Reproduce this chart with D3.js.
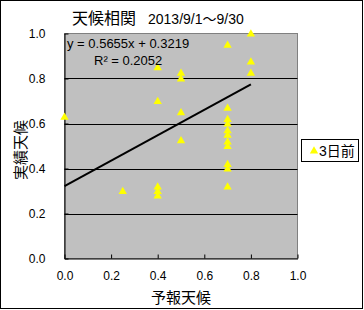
<!DOCTYPE html>
<html><head><meta charset="utf-8">
<script src="https://cdn.jsdelivr.net/npm/d3@7"></script>
<style>
body{margin:0;background:#fff;}
text{font-family:"Liberation Sans","Noto Sans CJK JP",sans-serif;}
</style></head>
<body><svg id="c" width="364" height="310"></svg>
<script>
const forecast = [0, 0.25, 0.4, 0.4, 0.4, 0.4, 0.4, 0.5, 0.5, 0.5, 0.5,
  0.7, 0.7, 0.7, 0.7, 0.7, 0.7, 0.7, 0.7, 0.7, 0.7, 0.7, 0.8, 0.8, 0.8];
const actual = [0.63, 0.30, 0.85, 0.70, 0.32, 0.30, 0.28, 0.825, 0.80, 0.65, 0.525,
  0.95, 0.67, 0.62, 0.60, 0.57, 0.55, 0.52, 0.50, 0.42, 0.40, 0.32, 1.0, 0.875, 0.825];
const trendSlope = 0.5655, trendIntercept = 0.3219, rSquared = 0.2052;
const trendRange = [0, 0.8];
const xTicks = [0, 0.2, 0.4, 0.6, 0.8, 1.0];
const yTicks = [0, 0.2, 0.4, 0.6, 0.8, 1.0];
const seriesName = "3日前";
const titleMain = "天候相関", titleSub = "2013/9/1～9/30";
const xTitle = "予報天候", yTitle = "実績天候";

const svg = d3.select("#c");
const L = 64.5, R = 297.5, T = 33.5, B = 258.5;
const x = d3.scaleLinear().domain([0, 1]).range([L, R]);
const y = d3.scaleLinear().domain([0, 1]).range([B, T]);

// outer border
svg.append("rect").attr("x", 0.5).attr("y", 0.5).attr("width", 362).attr("height", 308)
  .attr("fill", "#fff").attr("stroke", "#000");

// plot area
svg.append("rect").attr("x", L).attr("y", T).attr("width", R - L).attr("height", B - T)
  .attr("fill", "#c0c0c0").attr("stroke", "#808080");

// gridlines
svg.append("g").selectAll("line").data(yTicks.filter(d => d > 0 && d < 1)).join("line")
  .attr("x1", L).attr("x2", R).attr("y1", d => Math.round(y(d)) + 0.5).attr("y2", d => Math.round(y(d)) + 0.5)
  .attr("stroke", "#000");

// axes
const xAxis = svg.append("g").attr("transform", `translate(0,${B})`)
  .call(d3.axisBottom(x).tickValues(xTicks).tickFormat(d3.format(".1f")).tickSizeInner(-4).tickSizeOuter(0).tickPadding(13));
const yAxis = svg.append("g").attr("transform", `translate(${L},0)`)
  .call(d3.axisLeft(y).tickValues(yTicks).tickFormat(d3.format(".1f")).tickSizeInner(-4).tickSizeOuter(0).tickPadding(19));
[xAxis, yAxis].forEach(g => {
  g.select(".domain").attr("stroke", "#000");
  g.selectAll(".tick line").attr("stroke", "#000");
  g.selectAll("text").attr("font-size", 12).attr("fill", "#000")
    .style("font-family", '"Liberation Sans",sans-serif');
});

// trendline
svg.append("line")
  .attr("x1", x(trendRange[0])).attr("y1", y(trendSlope * trendRange[0] + trendIntercept))
  .attr("x2", x(trendRange[1])).attr("y2", y(trendSlope * trendRange[1] + trendIntercept))
  .attr("stroke", "#000").attr("stroke-width", 2);

// points
const tri = d3.symbol().type(d3.symbolTriangle).size(30);
svg.append("g").selectAll("path").data(forecast.map((f, i) => [f, actual[i]])).join("path")
  .attr("d", tri).attr("transform", d => `translate(${x(d[0])},${y(d[1]) + 0.5})`)
  .attr("fill", "#ffff00");

// equation
svg.append("text").attr("x", 67).attr("y", 48).attr("font-size", 13)
  .text(`y = ${trendSlope}x + ${trendIntercept}`);
svg.append("text").attr("x", 94).attr("y", 65).attr("font-size", 13)
  .text(`R² = ${rSquared}`);

// title
svg.append("text").attr("x", 72).attr("y", 24).attr("font-size", 16)
  .text(titleMain);
svg.append("text").attr("x", 148).attr("y", 24).attr("font-size", 14)
  .text(titleSub);

// axis titles
svg.append("text").attr("x", x(0.5)).attr("y", 303).attr("text-anchor", "middle").attr("font-size", 15)
  .text(xTitle);
svg.append("text").attr("transform", "translate(26,150) rotate(-90)").attr("text-anchor", "middle").attr("font-size", 15)
  .text(yTitle);

// legend
const lg = svg.append("g");
lg.append("rect").attr("x", 301.5).attr("y", 139.5).attr("width", 57).attr("height", 22)
  .attr("fill", "#fff").attr("stroke", "#000");
lg.append("path").attr("d", tri).attr("transform", "translate(314,151)").attr("fill", "#ffff00");
lg.append("text").attr("x", 319).attr("y", 156).attr("font-size", 14).text(seriesName);
</script></body></html>
